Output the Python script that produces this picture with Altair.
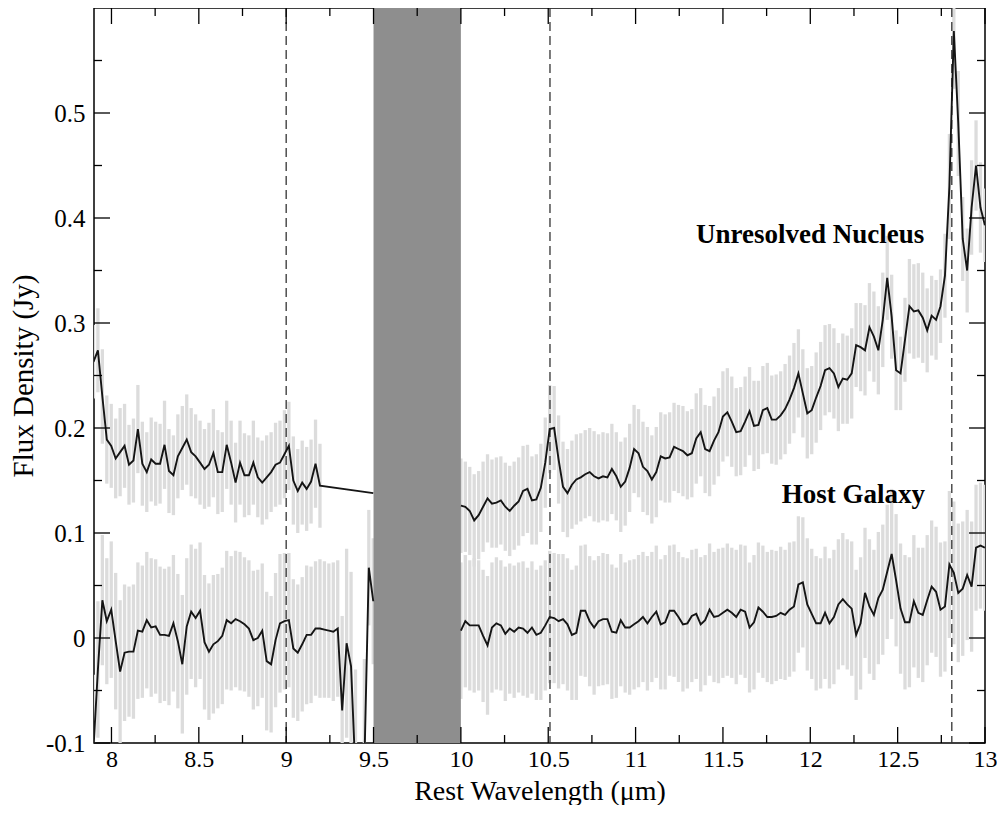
import altair as alt
import pandas as pd

FONT = "Liberation Serif"

# wavelength sampling grid (micron)
WL_LEFT_START = 7.897
WL_RIGHT_START = 10.0
WL_STEP = 0.02542

# ---- Unresolved nucleus, short-wavelength segment ----
nuc_left = [0.263, 0.274, 0.230, 0.189, 0.183, 0.171, 0.177, 0.183, 0.165, 0.169,
            0.199, 0.166, 0.158, 0.170, 0.166, 0.166, 0.184, 0.159, 0.155, 0.173,
            0.181, 0.189, 0.177, 0.173, 0.167, 0.161, 0.165, 0.176, 0.158, 0.158,
            0.184, 0.167, 0.148, 0.167, 0.155, 0.155, 0.167, 0.153, 0.148, 0.153,
            0.158, 0.165, 0.167, 0.175, 0.183, 0.150, 0.140, 0.148, 0.142, 0.149,
            0.166, 0.145]
nuc_left_err = [0.035, 0.040, 0.045, 0.042, 0.040, 0.038, 0.042, 0.040, 0.038, 0.040,
                0.042, 0.040, 0.038, 0.040, 0.040, 0.038, 0.042, 0.040, 0.038, 0.040,
                0.040, 0.043, 0.042, 0.040, 0.040, 0.038, 0.040, 0.042, 0.040, 0.038,
                0.042, 0.040, 0.038, 0.040, 0.040, 0.038, 0.040, 0.038, 0.040, 0.040,
                0.038, 0.040, 0.040, 0.042, 0.042, 0.042, 0.040, 0.040, 0.040, 0.040,
                0.042, 0.040]
nuc_gap_end_wl = 9.4985
nuc_gap_end = 0.138

# ---- Host galaxy, short-wavelength segment ----
host_left = [-0.105, -0.030, 0.036, 0.016, 0.027, -0.003, -0.032, -0.014, -0.013, -0.013,
             0.007, 0.006, 0.017, 0.010, 0.011, 0.003, 0.003, 0.002, 0.014, -0.003,
             -0.025, 0.011, 0.025, 0.019, 0.026, -0.004, -0.013, -0.006, -0.003, 0.002,
             0.017, 0.014, 0.018, 0.016, 0.013, 0.009, -0.002, 0.000, 0.007, -0.022,
             -0.025, -0.002, 0.014, 0.016, 0.017, -0.010, -0.014, -0.006, 0.003, 0.003,
             0.009, 0.009, 0.008, 0.007, 0.006, 0.009, -0.069, -0.005, -0.027, -0.130,
             -0.200, -0.120, 0.067, 0.035]
host_left_err = [0.070, 0.065, 0.062, 0.060, 0.065, 0.065, 0.068, 0.065, 0.062, 0.064,
                 0.065, 0.063, 0.065, 0.066, 0.064, 0.065, 0.063, 0.066, 0.065, 0.064,
                 0.066, 0.065, 0.064, 0.066, 0.065, 0.064, 0.065, 0.066, 0.064, 0.065,
                 0.066, 0.064, 0.065, 0.066, 0.064, 0.065, 0.066, 0.065, 0.064, 0.066,
                 0.065, 0.064, 0.066, 0.065, 0.064, 0.066, 0.065, 0.064, 0.066, 0.065,
                 0.064, 0.066, 0.065, 0.064, 0.066, 0.065, 0.090, 0.090, 0.090, 0.100,
                 0.100, 0.100, 0.055, 0.060]

# ---- Unresolved nucleus, long-wavelength segment ----
nuc_right = [0.126, 0.125, 0.121, 0.112, 0.117, 0.125, 0.133, 0.128, 0.129, 0.131,
             0.125, 0.121, 0.126, 0.130, 0.140, 0.142, 0.131, 0.132, 0.143, 0.167,
             0.199, 0.200, 0.170, 0.144, 0.138, 0.146, 0.151, 0.153, 0.156, 0.158,
             0.154, 0.152, 0.154, 0.153, 0.161, 0.154, 0.144, 0.149, 0.162, 0.180,
             0.176, 0.163, 0.159, 0.151, 0.158, 0.173, 0.171, 0.172, 0.182, 0.180,
             0.178, 0.174, 0.176, 0.190, 0.196, 0.180, 0.178, 0.188, 0.196, 0.211,
             0.215, 0.206, 0.196, 0.197, 0.206, 0.216, 0.202, 0.203, 0.217, 0.219,
             0.208, 0.208, 0.212, 0.218, 0.227, 0.238, 0.252, 0.233, 0.214, 0.217,
             0.229, 0.240, 0.255, 0.257, 0.252, 0.239, 0.247, 0.246, 0.252, 0.279,
             0.277, 0.274, 0.296, 0.287, 0.274, 0.303, 0.343, 0.306, 0.255, 0.252,
             0.284, 0.316, 0.311, 0.312, 0.305, 0.293, 0.307, 0.303, 0.316, 0.345,
             0.430, 0.578, 0.490, 0.380, 0.350, 0.410, 0.450, 0.410, 0.393]
nuc_right_err = [0.045, 0.043, 0.042, 0.044, 0.042, 0.043, 0.042, 0.042, 0.043, 0.042,
                 0.042, 0.043, 0.042, 0.042, 0.043, 0.042, 0.042, 0.043, 0.042, 0.043,
                 0.042, 0.040, 0.042, 0.043, 0.042, 0.042, 0.043, 0.042, 0.042, 0.042,
                 0.043, 0.042, 0.042, 0.042, 0.043, 0.042, 0.043, 0.042, 0.042, 0.042,
                 0.042, 0.043, 0.042, 0.042, 0.043, 0.042, 0.042, 0.043, 0.042, 0.042,
                 0.043, 0.042, 0.042, 0.043, 0.042, 0.042, 0.043, 0.042, 0.042, 0.043,
                 0.042, 0.043, 0.042, 0.042, 0.043, 0.042, 0.043, 0.042, 0.042, 0.043,
                 0.042, 0.043, 0.042, 0.043, 0.042, 0.043, 0.042, 0.042, 0.043, 0.042,
                 0.043, 0.042, 0.043, 0.042, 0.043, 0.042, 0.043, 0.042, 0.043, 0.040,
                 0.042, 0.043, 0.042, 0.043, 0.042, 0.045, 0.040, 0.040, 0.038, 0.035,
                 0.040, 0.045, 0.045, 0.045, 0.043, 0.040, 0.038, 0.038, 0.035, 0.040,
                 0.050, 0.055, 0.050, 0.040, 0.040, 0.045, 0.043, 0.043, 0.035]

# ---- Host galaxy, long-wavelength segment ----
host_right = [0.007, 0.016, 0.012, 0.012, 0.012, 0.002, -0.007, 0.010, 0.014, 0.012,
              0.004, 0.009, 0.006, 0.010, 0.009, 0.005, 0.010, 0.003, 0.005, 0.012,
              0.020, 0.019, 0.016, 0.018, 0.013, 0.003, 0.005, 0.026, 0.026, 0.016,
              0.010, 0.016, 0.018, 0.018, 0.006, 0.005, 0.017, 0.010, 0.010, 0.013,
              0.016, 0.020, 0.014, 0.020, 0.025, 0.013, 0.015, 0.026, 0.026, 0.020,
              0.013, 0.014, 0.021, 0.023, 0.013, 0.017, 0.027, 0.020, 0.021, 0.024,
              0.027, 0.024, 0.020, 0.027, 0.025, 0.010, 0.015, 0.029, 0.025, 0.020,
              0.020, 0.021, 0.024, 0.022, 0.027, 0.030, 0.051, 0.053, 0.032, 0.023,
              0.014, 0.014, 0.024, 0.014, 0.020, 0.032, 0.037, 0.032, 0.028, 0.003,
              0.014, 0.043, 0.030, 0.022, 0.038, 0.046, 0.063, 0.080, 0.055, 0.028,
              0.015, 0.015, 0.035, 0.024, 0.022, 0.036, 0.049, 0.044, 0.027, 0.030,
              0.070, 0.062, 0.043, 0.047, 0.060, 0.049, 0.086, 0.088, 0.086]
host_right_err = [0.065, 0.063, 0.062, 0.064, 0.062, 0.063, 0.066, 0.062, 0.063, 0.062,
                  0.064, 0.062, 0.063, 0.062, 0.064, 0.062, 0.063, 0.062, 0.064, 0.062,
                  0.063, 0.062, 0.064, 0.062, 0.063, 0.062, 0.064, 0.062, 0.063, 0.062,
                  0.064, 0.062, 0.063, 0.062, 0.064, 0.062, 0.063, 0.062, 0.064, 0.062,
                  0.063, 0.062, 0.064, 0.062, 0.063, 0.062, 0.064, 0.062, 0.063, 0.062,
                  0.064, 0.062, 0.063, 0.062, 0.064, 0.062, 0.063, 0.062, 0.064, 0.062,
                  0.063, 0.062, 0.064, 0.062, 0.063, 0.062, 0.064, 0.062, 0.063, 0.062,
                  0.064, 0.062, 0.063, 0.062, 0.064, 0.062, 0.065, 0.062, 0.063, 0.062,
                  0.064, 0.062, 0.063, 0.062, 0.064, 0.062, 0.063, 0.062, 0.064, 0.062,
                  0.063, 0.062, 0.064, 0.062, 0.063, 0.062, 0.064, 0.062, 0.063, 0.062,
                  0.064, 0.062, 0.063, 0.062, 0.064, 0.062, 0.063, 0.062, 0.064, 0.062,
                  0.070, 0.068, 0.066, 0.064, 0.062, 0.062, 0.060, 0.060, 0.060]

# shaded band, emission line markers, ticks, labels
hatch_band = [9.5, 10.0]
line_markers = [9.0, 10.51, 12.81]
x_major = [8, 8.5, 9, 9.5, 10, 10.5, 11, 11.5, 12, 12.5, 13]
x_minor = [8.25, 8.75, 9.25, 9.75, 10.25, 10.75, 11.25, 11.75, 12.25, 12.75]
y_major = [-0.1, 0.0, 0.1, 0.2, 0.3, 0.4, 0.5]
y_minor = [-0.05, 0.05, 0.15, 0.25, 0.35, 0.45, 0.55]
label_text = ["Unresolved Nucleus", "Host Galaxy"]
label_x = [12.652, 12.657]
label_y = [0.3765, 0.1287]

# ---- build tables ----
rows = []
def add(start, vals, errs, series, seg):
    for i, v in enumerate(vals):
        rows.append(dict(wl=round(start + i * WL_STEP, 5), flux=v,
                         err=errs[i] if errs is not None else None,
                         seg=series + "-" + seg))

add(WL_LEFT_START, nuc_left, nuc_left_err, "nuc", "L")
rows.append(dict(wl=nuc_gap_end_wl, flux=nuc_gap_end, err=None, seg="nuc-L"))
add(WL_LEFT_START, host_left, host_left_err, "host", "L")
add(WL_RIGHT_START, nuc_right, nuc_right_err, "nuc", "R")
add(WL_RIGHT_START, host_right, host_right_err, "host", "R")
df = pd.DataFrame(rows)
df_err = df.dropna(subset=["err"]).copy()
df_err["lo"] = df_err["flux"] - df_err["err"]
df_err["hi"] = df_err["flux"] + df_err["err"]

W, H = 891, 735
XT = "Rest Wavelength (μm)"
YT = "Flux Density (Jy)"
xscale = alt.Scale(domain=[7.9, 13.0], nice=False, zero=False)
yscale = alt.Scale(domain=[-0.1, 0.6], nice=False, zero=False)
xaxis = alt.Axis(values=x_major, labelExpr="toString(datum.value)", ticks=False,
                 domain=False, grid=False, labelFont=FONT, labelFontSize=24,
                 labelColor="black", labelPadding=4, labelFlush=False, labelOverlap=False,
                 titleFont=FONT, titleFontSize=28, titleFontWeight="normal",
                 titleColor="black", titleBaseline="alphabetic", titleY=56)
yaxis = alt.Axis(values=y_major, labelExpr="toString(round(datum.value*10)/10)",
                 ticks=False, domain=False, grid=False, labelFont=FONT,
                 labelFontSize=25, labelColor="black", labelPadding=9,
                 labelOverlap=False, titleFont=FONT, titleFontSize=29,
                 titleFontWeight="normal", titleColor="black",
                 titleBaseline="middle", titleX=-71)

def X(field):
    return alt.X(field, type="quantitative", scale=xscale, axis=xaxis, title=XT)

def Y(field):
    return alt.Y(field, type="quantitative", scale=yscale, axis=yaxis, title=YT)

errbars = alt.Chart(df_err).mark_rule(clip=True, color="#dcdcdc", strokeWidth=3.3).encode(
    x=X("wl"), y=Y("lo"), y2="hi")

band = alt.Chart(pd.DataFrame({"x0": [hatch_band[0]], "x1": [hatch_band[1]]})).mark_rect(
    color="#8e8e8e").encode(x=X("x0"), x2="x1", y=alt.value(0), y2=alt.value(H))

markers = alt.Chart(pd.DataFrame({"wl": line_markers})).mark_rule(
    color="#333333", strokeWidth=1.3, strokeDash=[9, 5]).encode(x=X("wl"))

lines = alt.Chart(df).mark_line(clip=True, color="#151515", strokeWidth=1.9).encode(
    x=X("wl"), y=Y("flux"), detail="seg:N", order="wl:Q")

tick_color = "black"
tw = 1.3
xmaj = pd.DataFrame({"wl": x_major})
xmin = pd.DataFrame({"wl": x_minor})
ymaj = pd.DataFrame({"flux": y_major})
ymin = pd.DataFrame({"flux": y_minor})
ticks = [
    alt.Chart(xmaj).mark_rule(color=tick_color, strokeWidth=tw).encode(
        x=X("wl"), y=alt.value(H), y2=alt.value(H - 16)),
    alt.Chart(xmaj).mark_rule(color=tick_color, strokeWidth=tw).encode(
        x=X("wl"), y=alt.value(0), y2=alt.value(16)),
    alt.Chart(xmin).mark_rule(color=tick_color, strokeWidth=tw).encode(
        x=X("wl"), y=alt.value(H), y2=alt.value(H - 8)),
    alt.Chart(xmin).mark_rule(color=tick_color, strokeWidth=tw).encode(
        x=X("wl"), y=alt.value(0), y2=alt.value(8)),
    alt.Chart(ymaj).mark_rule(color=tick_color, strokeWidth=tw).encode(
        y=Y("flux"), x=alt.value(0), x2=alt.value(16)),
    alt.Chart(ymaj).mark_rule(color=tick_color, strokeWidth=tw).encode(
        y=Y("flux"), x=alt.value(W), x2=alt.value(W - 16)),
    alt.Chart(ymin).mark_rule(color=tick_color, strokeWidth=tw).encode(
        y=Y("flux"), x=alt.value(0), x2=alt.value(8)),
    alt.Chart(ymin).mark_rule(color=tick_color, strokeWidth=tw).encode(
        y=Y("flux"), x=alt.value(W), x2=alt.value(W - 8)),
]

texts = alt.Chart(pd.DataFrame({"wl": label_x, "flux": label_y, "t": label_text})).mark_text(
    font=FONT, fontSize=27, fontWeight="bold", align="right", baseline="alphabetic",
    color="black").encode(x=X("wl"), y=Y("flux"), text="t:N")

chart = alt.layer(errbars, band, markers, lines, *ticks, texts).properties(
    width=W, height=H,
    autosize=alt.AutoSizeParams(type="none"),
    padding={"left": 86, "top": 0, "right": 12, "bottom": 62},
).configure_view(stroke="black", strokeWidth=1.5)

chart.save("out.html", embed_options={"renderer": "svg", "actions": False})
